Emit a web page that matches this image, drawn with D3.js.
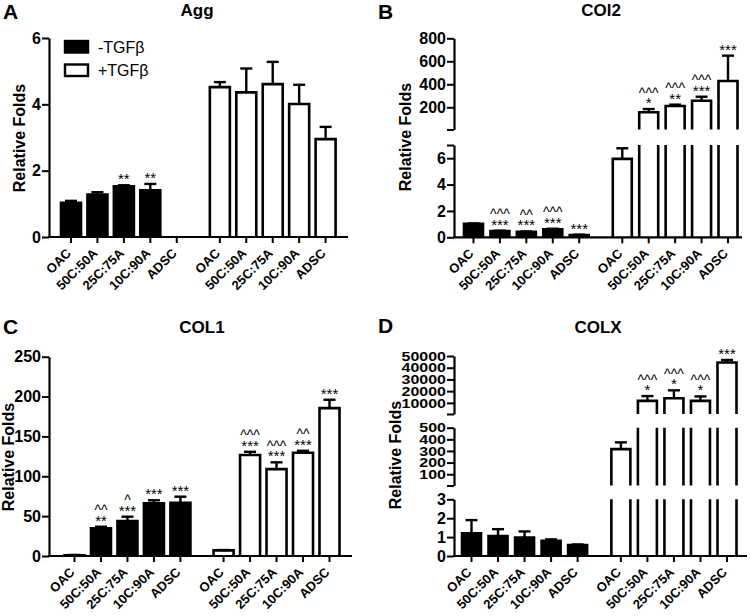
<!DOCTYPE html>
<html><head><meta charset="utf-8">
<script src="https://cdn.jsdelivr.net/npm/d3@7"></script>
<style>body{margin:0;background:#fff}svg{display:block}</style>
</head><body><svg id="chart" width="750" height="616"></svg>
<script>
// ---------- data ----------
const categories = ["OAC", "50C:50A", "25C:75A", "10C:90A", "ADSC"];
const legendLabels = ["-TGFβ", "+TGFβ"];
const yAxisTitle = "Relative Folds";

// Panel A: Agg
const aggMinus = [1.03, 1.28, 1.53, 1.41, null];
const aggMinusErr = [0.06, 0.07, 0.03, 0.19, null];
const aggPlus = [4.52, 4.36, 4.61, 4.01, 2.95];
const aggPlusErr = [0.15, 0.72, 0.67, 0.58, 0.37];
const aggMinusStars = ["", "", "**", "**", ""];
const aggMinusCarets = ["", "", "", "", ""];
const aggPlusStars = ["", "", "", "", ""];
const aggPlusCarets = ["", "", "", "", ""];
const aggTicks = [[0, 2, 4, 6]];

// Panel B: COl2
const col2Minus = [1.02, 0.48, 0.42, 0.6, 0.18];
const col2MinusErr = [0.03, 0.02, 0.02, 0.05, 0.02];
const col2Plus = [5.95, 157, 211, 257, 429];
const col2PlusErr = [0.8, 28, 12, 35, 220];
const col2MinusStars = ["", "***", "***", "***", "***"];
const col2MinusCarets = ["", "^^^", "^^", "^^^", ""];
const col2PlusStars = ["", "*", "**", "***", "***"];
const col2PlusCarets = ["", "^^^", "^^^", "^^^", ""];
const col2Ticks = [[0, 2, 4, 6], [200, 400, 600, 800]];

// Panel C: COL1
const col1Minus = [1, 34.7, 43.9, 66, 66.7];
const col1MinusErr = [0.3, 2, 5.4, 3.9, 7.7];
const col1Plus = [7, 126.7, 109, 129.6, 185.5];
const col1PlusErr = [0.5, 4, 8.5, 2.4, 10.5];
const col1MinusStars = ["", "**", "***", "***", "***"];
const col1MinusCarets = ["", "^^", "^", "", ""];
const col1PlusStars = ["", "***", "***", "***", "***"];
const col1PlusCarets = ["", "^^^", "^^^", "^^", ""];
const col1Ticks = [[0, 50, 100, 150, 200, 250]];

// Panel D: COLX
const colxMinus = [1.2, 1.06, 0.97, 0.81, 0.58];
const colxMinusErr = [0.7, 0.36, 0.33, 0.07, 0.03];
const colxPlus = [316, 11700, 13900, 11700, 44500];
const colxPlusErr = [58, 4100, 6800, 3800, 2100];
const colxMinusStars = ["", "", "", "", ""];
const colxMinusCarets = ["", "", "", "", ""];
const colxPlusStars = ["", "*", "*", "*", "***"];
const colxPlusCarets = ["", "^^^", "^^^", "^^^", ""];
const colxTicks = [[0, 1, 2, 3], [100, 200, 300, 400, 500], [10000, 20000, 30000, 40000, 50000]];

// ---------- layout ----------
const FONT = "'Liberation Sans', Arial, Helvetica, sans-serif";
const GROUP_GAP = 5.63; // index offset of the +TGF group

const panels = [
  { letter: "A", title: "Agg", letterXY: [3, 19], titleXY: [197, 16], yAxisX: 49, xFirst: 71, xLast: 325.6, xEnd: 348, barW: 20,
    yLabelXY: [25, 138], legend: true,
    segs: [{ domain: [0, 6], range: [237, 38], ticks: aggTicks[0] }],
    minus: aggMinus, minusErr: aggMinusErr, plus: aggPlus, plusErr: aggPlusErr,
    minusStars: aggMinusStars, minusCarets: aggMinusCarets, plusStars: aggPlusStars, plusCarets: aggPlusCarets },
  { letter: "B", title: "COl2", letterXY: [378, 19], titleXY: [601, 16], yAxisX: 454, xFirst: 473.5, xLast: 728, xEnd: 742, barW: 19,
    yLabelXY: [411, 137],
    segs: [{ domain: [0, 7], range: [237.3, 145], ticks: col2Ticks[0] },
           { domain: [7, 800], range: [129.5, 38.3], ticks: col2Ticks[1] }],
    minus: col2Minus, minusErr: col2MinusErr, plus: col2Plus, plusErr: col2PlusErr,
    minusStars: col2MinusStars, minusCarets: col2MinusCarets, plusStars: col2PlusStars, plusCarets: col2PlusCarets },
  { letter: "C", title: "COL1", letterXY: [3, 334], titleXY: [202, 333], yAxisX: 49, xFirst: 74.5, xLast: 329.5, xEnd: 352, barW: 20,
    yLabelXY: [14, 457],
    segs: [{ domain: [0, 250], range: [556, 356.7], ticks: col1Ticks[0] }],
    minus: col1Minus, minusErr: col1MinusErr, plus: col1Plus, plusErr: col1PlusErr,
    minusStars: col1MinusStars, minusCarets: col1MinusCarets, plusStars: col1PlusStars, plusCarets: col1PlusCarets },
  { letter: "D", title: "COLX", letterXY: [378, 333], titleXY: [598, 333], yAxisX: 454, xFirst: 471.5, xLast: 727, xEnd: 747, barW: 19,
    yLabelXY: [401, 455],
    segs: [{ domain: [0, 3], range: [556, 499.3], ticks: colxTicks[0] },
           { domain: [3, 500], range: [485.5, 427.7], ticks: colxTicks[1], squeeze: true },
           { domain: [500, 50000], range: [414, 356], ticks: colxTicks[2], squeeze: true }],
    minus: colxMinus, minusErr: colxMinusErr, plus: colxPlus, plusErr: colxPlusErr,
    minusStars: colxMinusStars, minusCarets: colxMinusCarets, plusStars: colxPlusStars, plusCarets: colxPlusCarets }
];

const svg = d3.select("#chart");

function drawPanel(p) {
  const g = svg.append("g");
  const x = d3.scaleLinear().domain([0, 4 + GROUP_GAP]).range([p.xFirst, p.xLast]);
  const scales = p.segs.map(s => ({ s, y: d3.scaleLinear().domain(s.domain).range(s.range) }));
  const y0 = scales[0].y(0);

  // letter + title
  g.append("text").attr("x", p.letterXY[0]).attr("y", p.letterXY[1]).text(p.letter)
    .attr("font-family", FONT).attr("font-weight", "bold").attr("font-size", 21);
  g.append("text").attr("x", p.titleXY[0]).attr("y", p.titleXY[1]).text(p.title)
    .attr("text-anchor", "middle").attr("font-family", FONT).attr("font-weight", "bold").attr("font-size", 17);
  g.append("text").attr("transform", `translate(${p.yLabelXY[0]},${p.yLabelXY[1]}) rotate(-90)`)
    .attr("text-anchor", "middle").text(yAxisTitle)
    .attr("font-family", FONT).attr("font-weight", "bold").attr("font-size", 16);

  // bars
  const groups = [
    { vals: p.minus, errs: p.minusErr, stars: p.minusStars, carets: p.minusCarets, off: 0, fill: "#000" },
    { vals: p.plus, errs: p.plusErr, stars: p.plusStars, carets: p.plusCarets, off: GROUP_GAP, fill: "#fff" }
  ];
  const bw = p.barW;
  groups.forEach(gr => {
    gr.vals.forEach((v, i) => {
      if (v == null) return;
      const cx = x(i + gr.off);
      const x0 = cx - bw / 2, x1 = cx + bw / 2;
      scales.forEach(({ s, y }) => {
        const lo = s.domain[0], hi = s.domain[1];
        if (v <= lo) return;
        const top = Math.min(v, hi);
        const clipped = v > hi;
        g.append("rect").attr("x", x0).attr("y", y(top)).attr("width", bw).attr("height", y(lo) - y(top))
          .attr("fill", gr.fill);
        const path = clipped
          ? `M${x0},${y(lo)}V${y(top)}M${x1},${y(top)}V${y(lo)}`
          : `M${x0},${y(lo)}V${y(top)}H${x1}V${y(lo)}`;
        g.append("path").attr("d", path).attr("fill", "none").attr("stroke", "#000")
          .attr("stroke-width", 2.6).attr("stroke-linejoin", "miter");
      });
      // error bar
      const e = gr.errs[i] || 0;
      const vt = v + e;
      const seg = scales.find(({ s }) => vt >= s.domain[0] && vt <= s.domain[1]) || scales[scales.length - 1];
      const ys = seg.y;
      if (e > 0) {
        g.append("line").attr("x1", cx).attr("x2", cx).attr("y1", ys(Math.max(v, seg.s.domain[0]))).attr("y2", ys(vt))
          .attr("stroke", "#000").attr("stroke-width", 2.4);
        g.append("line").attr("x1", cx - 6).attr("x2", cx + 6).attr("y1", ys(vt)).attr("y2", ys(vt))
          .attr("stroke", "#000").attr("stroke-width", 2.4);
      }
      const sy = ys(vt) - 1;
      if (gr.stars[i]) g.append("text").attr("x", cx).attr("y", sy).text(gr.stars[i])
        .attr("text-anchor", "middle").attr("font-family", FONT).attr("font-size", 15).attr("fill", "#000");
      if (gr.carets[i]) g.append("text").attr("x", cx).attr("y", sy - 10.5).text(gr.carets[i])
        .attr("text-anchor", "middle").attr("font-family", FONT).attr("font-size", 14).attr("fill", "#000");
    });
  });

  // y axes (one per segment)
  scales.forEach(({ s, y }) => {
    const vals = Array.from(new Set([s.domain[0], ...s.ticks, s.domain[1]]));
    const ax = d3.axisLeft(y).tickValues(vals).tickSize(7).tickPadding(1).tickSizeOuter(0)
      .tickFormat(d => s.ticks.includes(d) ? d3.format("d")(d) : "");
    const ag = g.append("g").attr("transform", `translate(${p.yAxisX},0)`).call(ax);
    ag.select(".domain").attr("stroke-width", 2.2);
    ag.selectAll(".tick line").attr("stroke-width", 2);
    ag.selectAll(".tick text").attr("font-family", FONT).attr("font-weight", "bold").attr("font-size", 16)
      .attr("fill", "#000");
    if (s.squeeze) ag.selectAll(".tick text").attr("transform", "scale(1,0.82)");
  });

  // x axis
  const xs = [];
  categories.forEach((c, i) => { xs.push({ c, pos: x(i) }); });
  categories.forEach((c, i) => { xs.push({ c, pos: x(i + GROUP_GAP) }); });
  g.append("line").attr("x1", p.yAxisX - 1).attr("x2", p.xEnd).attr("y1", y0).attr("y2", y0)
    .attr("stroke", "#000").attr("stroke-width", 2.2);
  xs.forEach(d => {
    g.append("line").attr("x1", d.pos).attr("x2", d.pos).attr("y1", y0).attr("y2", y0 + 6)
      .attr("stroke", "#000").attr("stroke-width", 2);
    g.append("text").attr("transform", `translate(${d.pos + 1},${y0 + 17}) rotate(-45)`)
      .attr("text-anchor", "end").text(d.c)
      .attr("font-family", FONT).attr("font-weight", "bold").attr("font-size", 13);
  });

  // legend
  if (p.legend) {
    const items = [{ fill: "#000", y: 41 }, { fill: "#fff", y: 64.5 }];
    items.forEach((it, k) => {
      g.append("rect").attr("x", 65).attr("y", it.y).attr("width", 23).attr("height", 11.5)
        .attr("fill", it.fill).attr("stroke", "#000").attr("stroke-width", 2.4);
      g.append("text").attr("x", 98).attr("y", it.y + 11.5).text(legendLabels[k])
        .attr("font-family", FONT).attr("font-size", 16);
    });
  }
}

panels.forEach(drawPanel);
</script></body></html>
